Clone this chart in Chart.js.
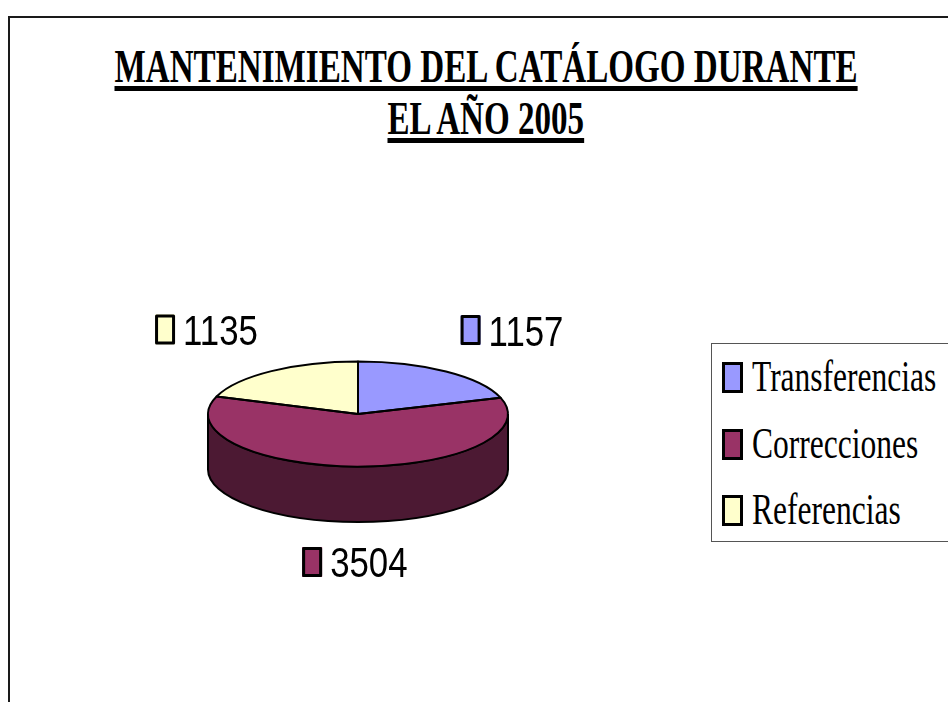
<!DOCTYPE html>
<html>
<head>
<meta charset="utf-8">
<script src="https://cdn.jsdelivr.net/npm/chart.js@4.4.0/dist/chart.umd.min.js"></script>
<style>
  html, body { margin: 0; padding: 0; background: #fff; overflow: hidden; }
  #page { position: relative; width: 948px; height: 702px; overflow: hidden; }
  #frame { position: absolute; left: 8px; top: 16px; width: 1000px; height: 800px; border: 2px solid #1a1a1a; box-sizing: border-box; }
  #chart { position: absolute; left: 0; top: 0; }
  .title-line { position: absolute; left: 486px; white-space: nowrap; font-family: "Liberation Serif", "Times New Roman", serif; font-weight: bold; font-size: 46px; line-height: 46px; color: #000; text-decoration: underline; text-decoration-thickness: 5px; text-underline-offset: 4px; transform-origin: 0 0; }
  #legend { position: absolute; left: 711px; top: 343px; width: 300px; height: 199px; border: 1px solid #555; box-sizing: border-box; background: #fff; }
  .lg-item { position: absolute; left: 10px; width: 280px; height: 50px; }
  .lg-box { position: absolute; left: 0; top: 8px; width: 21px; height: 31px; border: 3px solid #000; box-sizing: border-box; }
  .lg-text { position: absolute; left: 30px; top: 0; white-space: nowrap; font-family: "Liberation Serif", "Times New Roman", serif; font-size: 45px; line-height: 45px; color: #000; transform: scaleX(0.7); transform-origin: 0 0; }
</style>
</head>
<body>
<div id="page">
  <div id="frame"></div>
  <div class="title-line" id="t1" style="top:44px">MANTENIMIENTO DEL CATÁLOGO DURANTE</div>
  <div class="title-line" id="t2" style="top:96px">EL AÑO 2005</div>
  <canvas id="chart" width="948" height="702"></canvas>
  <div id="legend"></div>
</div>
<script>
const categories = ["Transferencias", "Correcciones", "Referencias"];
const values = [1157, 3504, 1135];
const colors = ["#9999FF", "#993366", "#FFFFCC"];

const TILT = 0.35;   // vertical squash of the pie
const DEPTH = 0.37;  // wall height as a share of the radius

// fit the condensed title lines to their widths
[["t1", 743], ["t2", 197]].forEach(([id, target]) => {
  const el = document.getElementById(id);
  const w = el.offsetWidth;
  const s = target / w;
  el.style.transform = `translateX(${-target / 2}px) scaleX(${s})`;
});

// legend
const legend = document.getElementById("legend");
categories.forEach((name, i) => {
  const item = document.createElement("div");
  item.className = "lg-item";
  item.style.top = (10 + i * 66.5) + "px";
  item.innerHTML = `<div class="lg-box" style="background:${colors[i]}"></div><div class="lg-text">${name}</div>`;
  legend.appendChild(item);
});

function shade(hex) {
  const n = parseInt(hex.slice(1), 16);
  const r = (n >> 16) >> 1, g = ((n >> 8) & 255) >> 1, b = (n & 255) >> 1;
  return `rgb(${r},${g},${b})`;
}

const pie3d = {
  id: "pie3d",
  beforeDatasetsDraw(chart) {
    const ctx = chart.ctx;
    const meta = chart.getDatasetMeta(0);
    ctx.save();
    ctx.lineWidth = 2;
    ctx.strokeStyle = "#000";
    meta.data.forEach((arc, i) => {
      const { x, y, startAngle, endAngle, outerRadius } = arc.getProps(["x", "y", "startAngle", "endAngle", "outerRadius"], true);
      const ry = outerRadius * TILT, d = outerRadius * DEPTH;
      for (let n = -1; n <= 1; n++) {
        const lo = Math.max(startAngle, 2 * Math.PI * n);
        const hi = Math.min(endAngle, 2 * Math.PI * n + Math.PI);
        if (hi <= lo) continue;
        ctx.beginPath();
        ctx.ellipse(x, y, outerRadius, ry, 0, lo, hi);
        ctx.lineTo(x + outerRadius * Math.cos(hi), y + ry * Math.sin(hi) + d);
        ctx.ellipse(x, y + d, outerRadius, ry, 0, hi, lo, true);
        ctx.closePath();
        ctx.fillStyle = shade(colors[i]);
        ctx.fill();
        ctx.stroke();
      }
    });
    ctx.restore();
    const a = meta.data[0];
    ctx.save();
    ctx.translate(a.x, a.y);
    ctx.scale(1, TILT);
    ctx.translate(-a.x, -a.y);
  },
  afterDatasetsDraw(chart) {
    const ctx = chart.ctx;
    ctx.restore();
    const meta = chart.getDatasetMeta(0);
    ctx.save();
    ctx.lineWidth = 2;
    ctx.strokeStyle = "#000";
    ctx.lineJoin = "round";
    meta.data.forEach((arc) => {
      const { x, y, startAngle, endAngle, outerRadius } = arc.getProps(["x", "y", "startAngle", "endAngle", "outerRadius"], true);
      const ry = outerRadius * TILT;
      ctx.beginPath();
      ctx.moveTo(x, y);
      ctx.lineTo(x + outerRadius * Math.cos(startAngle), y + ry * Math.sin(startAngle));
      ctx.ellipse(x, y, outerRadius, ry, 0, startAngle, endAngle);
      ctx.closePath();
      ctx.stroke();
    });
    // value labels with colour keys
    ctx.font = '43px "Liberation Sans", Arial, sans-serif';
    ctx.textBaseline = "alphabetic";
    const sx = 0.81;
    meta.data.forEach((arc, i) => {
      const { x, y, startAngle, endAngle, outerRadius } = arc.getProps(["x", "y", "startAngle", "endAngle", "outerRadius"], true);
      const mid = (startAngle + endAngle) / 2;
      const s = Math.sin(mid);
      const lx = x + outerRadius * 1.75 * Math.cos(mid);
      const ly = y + (outerRadius * TILT + outerRadius * 0.3) * s + (s > 0 ? outerRadius * DEPTH : 0) - 5;
      const txt = String(values[i]);
      const tw = ctx.measureText(txt).width * sx;
      const gw = 20 + 8 + tw;
      const bx = lx - gw / 2;
      ctx.fillStyle = colors[i];
      ctx.fillRect(bx, ly - 15, 20, 30);
      ctx.lineWidth = 3;
      ctx.strokeRect(bx + 1.5, ly - 13.5, 17, 27);
      ctx.save();
      ctx.translate(bx + 28, ly + 15.5);
      ctx.scale(sx, 1);
      ctx.fillStyle = "#000";
      ctx.fillText(txt, 0, 0);
      ctx.restore();
    });
    ctx.restore();
  }
};

new Chart(document.getElementById("chart").getContext("2d"), {
  type: "pie",
  data: {
    labels: categories,
    datasets: [{
      data: values,
      backgroundColor: colors,
      borderWidth: 0,
      clip: false
    }]
  },
  options: {
    responsive: false,
    animation: false,
    events: [],
    layout: { padding: { left: 208, right: 440, top: 264, bottom: 138 } },
    plugins: {
      legend: { display: false },
      title: { display: false },
      tooltip: { enabled: false }
    }
  },
  plugins: [pie3d]
});
</script>
</body>
</html>
